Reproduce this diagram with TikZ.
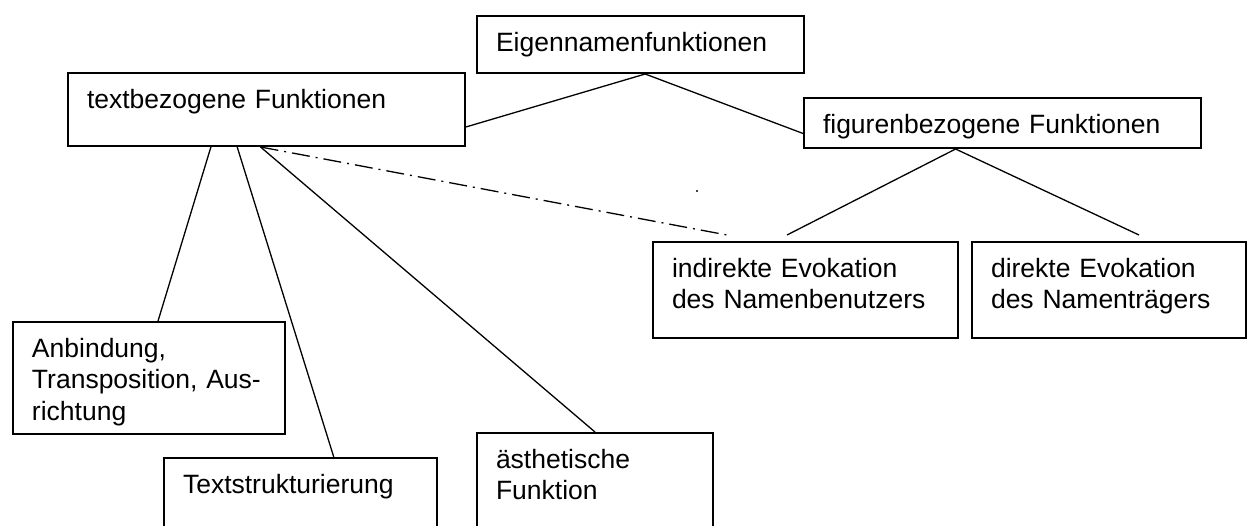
\documentclass[tikz,border=0pt]{standalone}
\usepackage{fontspec}
\setmainfont{Liberation Sans}
\tikzset{
  tbox/.style={draw, line width=1pt, anchor=north west, align=left,
    font=\fontsize{13.25pt}{15.75pt}\selectfont,
    inner xsep=9.5pt, inner ysep=0pt, text height=17.5pt},
  lnk/.style={line width=0.65pt},
  dlnk/.style={lnk, dash pattern=on 9pt off 3pt on 1pt off 3pt},
}

\begin{document}
\begin{tikzpicture}[x=0.5pt,y=-0.5pt]
\path[use as bounding box, clip] (0,0) rectangle (1251,525);
% boxes
\node[tbox, text width=144.5pt, text depth=11pt] (eigen) at (476,15) {Eigennamenfunktionen};
\node[tbox, text width=179.5pt, text depth=19pt] (textbez) at (67,72) {textbezogene Funktionen};
\node[tbox, text width=179.5pt, text depth=7.5pt] (figuren) at (803,97) {figurenbezogene Funktionen};
\node[tbox, text width=133.5pt, text depth=30.5pt] (indirekt) at (652,241) {indirekte Evokation\\des Namenbenutzers};
\node[tbox, text width=118pt, text depth=30.5pt] (direkt) at (971,241) {direkte Evokation\\des Namenträgers};
\node[tbox, text width=117pt, text depth=38.5pt] (anbind) at (12,321) {Anbindung,\\Transposition, Aus-\\richtung};
\node[tbox, text width=117.5pt, text depth=29pt] (struktur) at (163,457) {Textstrukturierung};
\node[tbox, text width=99pt, text depth=41.5pt] (aesth) at (476,432) {ästhetische\\Funktion};
% free ends
\coordinate (indend) at (787,235);
\coordinate (dirend) at (1139,235);
\coordinate (dashend) at (727,235);
% connectors
\draw[lnk] (eigen.-81) -- (textbez.-5.6);
\draw[lnk] (eigen.-81) -- (figuren.183);
\draw[lnk] (figuren.209) -- (indend);
\draw[lnk] (figuren.209) -- (dirend);
\draw[lnk] (textbez.214.3) -- (anbind.81.9);
\draw[lnk] (textbez.232) -- (struktur.55);
\draw[lnk] (textbez.261.4) -- (aesth.north);
\draw[dlnk] (textbez.261.4) -- (dashend);
\fill (697,191) circle[radius=1.2];
\end{tikzpicture}
\end{document}
